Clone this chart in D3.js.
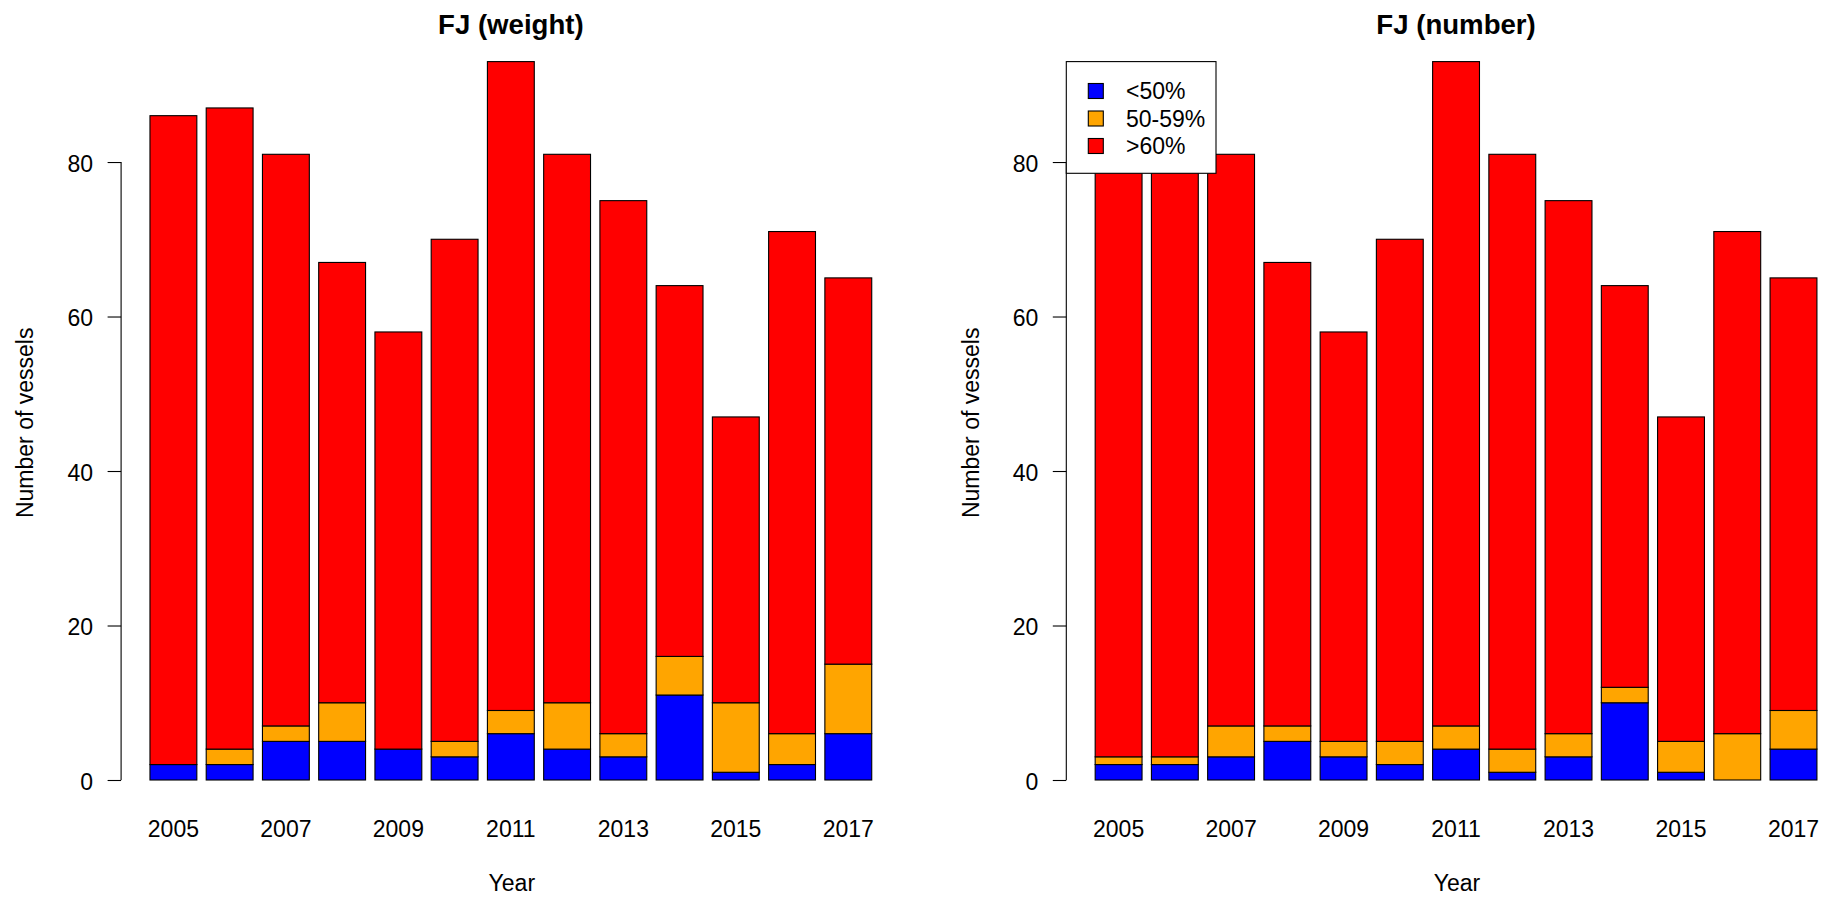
<!DOCTYPE html>
<html>
<head>
<meta charset="utf-8">
<script src="https://cdn.jsdelivr.net/npm/d3@7"></script>
<style>
  html, body { margin: 0; padding: 0; background: #fff; }
  svg { display: block; font-family: "Liberation Sans", Arial, sans-serif; }
</style>
</head>
<body>
<svg id="chart" width="1831" height="900"></svg>
<script>
const years = [2005, 2006, 2007, 2008, 2009, 2010, 2011, 2012, 2013, 2014, 2015, 2016, 2017];
const yTicks = [0, 20, 40, 60, 80];
const xTickYears = [2005, 2007, 2009, 2011, 2013, 2015, 2017];
const seriesKeys = ["<50%", "50-59%", ">60%"];
const seriesColors = ["#0000FF", "#FFA500", "#FF0000"];

const weightBlue   = [2, 2, 5, 5, 4, 3, 6, 4, 3, 11, 1, 2, 6];
const weightOrange = [0, 2, 2, 5, 0, 2, 3, 6, 3, 5, 9, 4, 9];
const weightRed    = [84, 83, 74, 57, 54, 65, 84, 71, 69, 48, 37, 65, 50];

const numberBlue   = [2, 2, 3, 5, 3, 2, 4, 1, 3, 10, 1, 0, 4];
const numberOrange = [1, 1, 4, 2, 2, 3, 3, 3, 3, 2, 4, 6, 5];
const numberRed    = [83, 84, 74, 60, 53, 65, 86, 77, 69, 52, 42, 65, 56];

const panels = [
  { title: "FJ (weight)", series: [weightBlue, weightOrange, weightRed], offset: 0, legend: false },
  { title: "FJ (number)", series: [numberBlue, numberOrange, numberRed], offset: 945.2, legend: true }
];

const svg = d3.select("#chart");
const FS = 23;

panels.forEach(p => {
  const L = 121.1 + p.offset, R = 900.6 + p.offset;
  const g = svg.append("g");

  const rows = years.map((yr, i) => {
    const r = { year: yr };
    seriesKeys.forEach((k, j) => r[k] = p.series[j][i]);
    return r;
  });
  const stacked = d3.stack().keys(seriesKeys)(rows);
  const ymax = d3.max(rows, r => seriesKeys.reduce((s, k) => s + r[k], 0));

  const x = d3.scaleBand().domain(years).range([L, R])
    .paddingInner(1 / 6).paddingOuter(0.5133);
  const y = d3.scaleLinear().domain([0, ymax]).range([780, 61.6]);

  // bars
  stacked.forEach((layer, j) => {
    g.append("g").selectAll("rect").data(layer).join("rect")
      .attr("x", d => x(d.data.year))
      .attr("width", x.bandwidth())
      .attr("y", d => y(d[1]))
      .attr("height", d => y(d[0]) - y(d[1]))
      .attr("fill", seriesColors[j])
      .attr("stroke", "#000")
      .attr("stroke-width", 1.1);
  });

  // y axis
  const yAxis = g.append("g")
    .attr("transform", `translate(${L},0)`)
    .call(d3.axisLeft(y).tickValues(yTicks).tickSize(13.5).tickPadding(14.5));
  yAxis.select(".domain").remove();
  yAxis.append("line")
    .attr("x1", 0).attr("x2", 0)
    .attr("y1", y(0)).attr("y2", y(80))
    .attr("stroke", "#000").attr("stroke-width", 1.1);
  yAxis.selectAll(".tick line").attr("stroke", "#000").attr("stroke-width", 1.1);
  yAxis.selectAll(".tick text")
    .attr("dy", "0.4em")
    .attr("fill", "#000")
    .style("font-size", FS + "px")
    .style("font-family", "'Liberation Sans', Arial, sans-serif");

  // x axis labels (no line)
  const xAxis = g.append("g")
    .attr("transform", "translate(0,837.3)")
    .call(d3.axisBottom(x).tickValues(xTickYears).tickSize(0).tickPadding(0));
  xAxis.select(".domain").remove();
  xAxis.selectAll(".tick text")
    .attr("y", 0).attr("dy", 0)
    .attr("fill", "#000")
    .style("font-size", FS + "px")
    .style("font-family", "'Liberation Sans', Arial, sans-serif");

  // title
  g.append("text")
    .attr("x", (L + R) / 2).attr("y", 34)
    .attr("text-anchor", "middle")
    .style("font-size", (FS * 1.2) + "px")
    .style("font-weight", "bold")
    .text(p.title);

  // axis titles
  g.append("text")
    .attr("x", (L + R) / 2 + 1).attr("y", 891)
    .attr("text-anchor", "middle")
    .style("font-size", FS + "px")
    .text("Year");
  g.append("text")
    .attr("transform", `translate(${33.3 + p.offset},${(y(0) + y(ymax)) / 2 + 2}) rotate(-90)`)
    .attr("text-anchor", "middle")
    .style("font-size", FS + "px")
    .text("Number of vessels");

  // legend
  if (p.legend) {
    const lg = g.append("g").attr("transform", `translate(${L},${y(ymax)})`);
    lg.append("rect")
      .attr("x", 0).attr("y", 0)
      .attr("width", 149.7).attr("height", 111.7)
      .attr("fill", "#fff").attr("stroke", "#000").attr("stroke-width", 1.1);
    seriesKeys.forEach((k, j) => {
      const cy = 29.4 + j * 27.5;
      lg.append("rect")
        .attr("x", 22).attr("y", cy - 7.5)
        .attr("width", 15).attr("height", 15)
        .attr("fill", seriesColors[j]).attr("stroke", "#000").attr("stroke-width", 1.1);
      lg.append("text")
        .attr("x", 59.7).attr("y", cy).attr("dy", "0.36em")
        .style("font-size", FS + "px")
        .text(k);
    });
  }
});
</script>
</body>
</html>
